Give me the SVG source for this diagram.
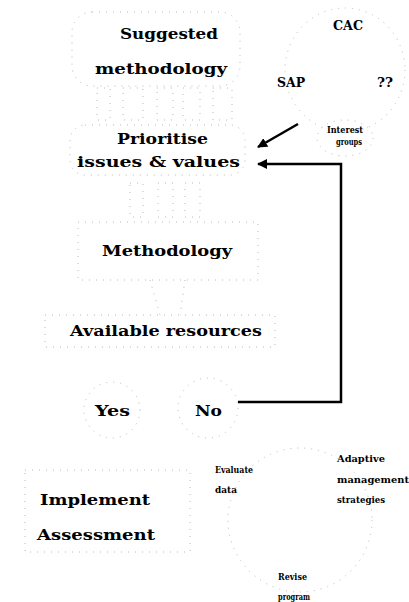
<svg xmlns="http://www.w3.org/2000/svg" width="409" height="602" viewBox="0 0 409 602">
<style>
.t{font-family:"DejaVu Serif","Liberation Serif",serif;font-weight:bold;fill:#000}
.b{font-size:15px}
.m{font-size:12px}
.s{font-size:8.5px}
.d{fill:none;stroke:#b8b8b8;stroke-width:1;stroke-dasharray:1 6}
.c{fill:none;stroke:#000;stroke-width:2.5}
</style>
<defs>
<marker id="ah" viewBox="0 0 10 10" refX="9" refY="5" markerWidth="4" markerHeight="4" orient="auto" markerUnits="strokeWidth">
<path d="M0,0 L10,5 L0,10 z" fill="#000"/>
</marker>
</defs>
<rect width="409" height="602" fill="#fff"/>
<g id="bg-dots">
<rect class="d" x="72" y="12" width="168" height="74" rx="20"/>
<rect class="d" x="97" y="88" width="13" height="32"/>
<rect class="d" x="123" y="88" width="20" height="32"/>
<rect class="d" x="157" y="88" width="16" height="32"/>
<rect class="d" x="183" y="88" width="17" height="32"/>
<rect class="d" x="213" y="88" width="19" height="32"/>
<rect class="d" x="70" y="125" width="175" height="50" rx="15"/>
<rect class="d" x="130" y="183" width="13" height="34"/>
<rect class="d" x="158" y="183" width="15" height="34"/>
<rect class="d" x="185" y="183" width="15" height="34"/>
<rect class="d" x="78" y="222" width="180" height="58"/>
<path class="d" d="M150,280 L160,315 M185,280 L180,315"/>
<rect class="d" x="45" y="315" width="230" height="32"/>
<circle class="d" cx="112" cy="410" r="28"/>
<circle class="d" cx="208" cy="408" r="30"/>
<ellipse class="d" cx="345" cy="70" rx="60" ry="62"/>
<ellipse class="d" cx="345" cy="138" rx="28" ry="18"/>
<circle class="d" cx="300" cy="520" r="72"/>
<rect class="d" x="25" y="470" width="165" height="82"/>
</g>
<g id="suggested-methodology"><text class="t b" x="120" y="39" textLength="98" lengthAdjust="spacingAndGlyphs">Suggested</text><text class="t b" x="95" y="74" textLength="132" lengthAdjust="spacingAndGlyphs">methodology</text></g>
<g id="prioritise"><text class="t b" x="117" y="144" textLength="91" lengthAdjust="spacingAndGlyphs">Prioritise</text><text class="t b" x="77" y="167" textLength="163" lengthAdjust="spacingAndGlyphs">issues &amp; values</text></g>
<g id="methodology"><text class="t b" x="102" y="256" textLength="130" lengthAdjust="spacingAndGlyphs">Methodology</text></g>
<g id="resources"><text class="t b" x="70" y="336" textLength="192" lengthAdjust="spacingAndGlyphs">Available resources</text></g>
<g id="yes"><text class="t b" x="95" y="416" textLength="35" lengthAdjust="spacingAndGlyphs">Yes</text></g>
<g id="no"><text class="t b" x="195" y="416" textLength="27" lengthAdjust="spacingAndGlyphs">No</text></g>
<g id="implement"><text class="t b" x="40" y="505" textLength="110" lengthAdjust="spacingAndGlyphs">Implement</text><text class="t b" x="37" y="540" textLength="118" lengthAdjust="spacingAndGlyphs">Assessment</text></g>
<g id="cac"><text class="t m" x="333" y="30" textLength="30" lengthAdjust="spacingAndGlyphs">CAC</text></g>
<g id="sap"><text class="t m" x="277" y="87" textLength="28" lengthAdjust="spacingAndGlyphs">SAP</text></g>
<g id="qq"><text class="t m" x="377" y="87" textLength="16" lengthAdjust="spacingAndGlyphs">??</text></g>
<g id="interest"><text class="t s" x="327" y="133" textLength="36" lengthAdjust="spacingAndGlyphs">Interest</text><text class="t s" x="336" y="145" textLength="26" lengthAdjust="spacingAndGlyphs">groups</text></g>
<g id="evaluate"><text class="t s" x="215" y="473" textLength="38" lengthAdjust="spacingAndGlyphs">Evaluate</text><text class="t s" x="215" y="493" textLength="22" lengthAdjust="spacingAndGlyphs">data</text></g>
<g id="adaptive"><text class="t s" x="337" y="462" textLength="48" lengthAdjust="spacingAndGlyphs">Adaptive</text><text class="t s" x="337" y="483" textLength="72" lengthAdjust="spacingAndGlyphs">management</text><text class="t s" x="337" y="503" textLength="48" lengthAdjust="spacingAndGlyphs">strategies</text></g>
<g id="revise"><text class="t s" x="278" y="580" textLength="29" lengthAdjust="spacingAndGlyphs">Revise</text><text class="t s" x="278" y="600" textLength="32" lengthAdjust="spacingAndGlyphs">program</text></g>
<g id="connectors">
<path class="c" d="M298,124 L258,147" marker-end="url(#ah)"/>
<path class="c" d="M238,402 H341 V164 H258" stroke-linejoin="miter" marker-end="url(#ah)"/>
</g>
</svg>
